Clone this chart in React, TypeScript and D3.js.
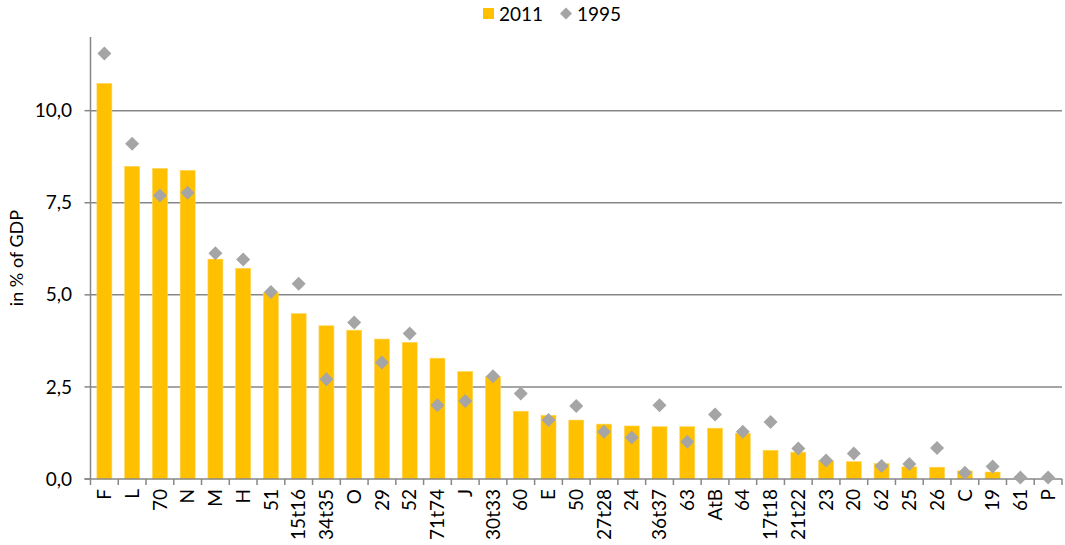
import React from "react";
import * as d3 from "d3";

const categories = ["F","L","70","N","M","H","51","15t16","34t35","O","29","52","71t74","J","30t33","60","E","50","27t28","24","36t37","63","AtB","64","17t18","21t22","23","20","62","25","26","C","19","61","P"];
const values2011 = [10.74,8.49,8.43,8.38,5.97,5.72,5.06,4.49,4.16,4.04,3.80,3.71,3.28,2.92,2.78,1.84,1.73,1.60,1.49,1.44,1.42,1.42,1.38,1.24,0.78,0.73,0.50,0.47,0.42,0.33,0.32,0.22,0.19,0,0];
const values1995 = [11.55,9.10,7.70,7.77,6.13,5.96,5.08,5.30,2.71,4.25,3.16,3.95,2.00,2.12,2.79,2.32,1.60,1.98,1.28,1.13,2.00,1.01,1.75,1.28,1.55,0.83,0.50,0.69,0.35,0.41,0.84,0.17,0.34,0.04,0.04];
const yTicks = [0, 2.5, 5, 7.5, 10];
const seriesNames = ["2011", "1995"];

const W = 1065, H = 545;
const left = 90.5, right = 1062, top = 37, bottom = 479;
const FONT = "Lato, 'Open Sans', sans-serif";
const BAR = "#FFC000";
const DIAM = "#A5A5A5";
const AXIS = "#878787";

function diamond(cx: number, cy: number, r: number) {
  return `M${cx},${cy - r}L${cx + r},${cy}L${cx},${cy + r}L${cx - r},${cy}Z`;
}

export default function App() {
  const x = d3.scaleBand<string>().domain(categories).range([left, right]).paddingInner(0.46).paddingOuter(0.23);
  const y = d3.scaleLinear().domain([0, 12]).range([bottom, top]);
  const step = x.step();
  const bw = x.bandwidth();
  const fmt = (v: number) => d3.format(".1f")(v).replace(".", ",");
  const boundaries = categories.map((c) => (x(c) as number) + bw / 2 - step / 2);
  boundaries.push(boundaries[boundaries.length - 1] + step);

  return (
    <svg width={W} height={H} style={{ position: "absolute", left: 0, top: 0, background: "#fff" }} fontFamily={FONT}>
      {yTicks.filter((t) => t > 0).map((t) => (
        <line key={t} x1={left} x2={right} y1={y(t)} y2={y(t)} stroke={AXIS} strokeWidth={1.5} />
      ))}
      {categories.map((c, i) => (
        <rect key={c} x={x(c)} y={y(values2011[i])} width={bw} height={bottom - y(values2011[i])} fill={BAR} stroke="#FFD65A" strokeWidth={0.6} />
      ))}
      <line x1={left} x2={left} y1={top} y2={bottom} stroke={AXIS} strokeWidth={1.5} />
      {yTicks.map((t) => (
        <g key={t}>
          <line x1={left - 6} x2={left} y1={y(t)} y2={y(t)} stroke={AXIS} strokeWidth={1.5} />
          <text x={72} y={y(t)} dy="0.35em" textAnchor="end" fontSize={19} fill="#000">{fmt(t)}</text>
        </g>
      ))}
      <line x1={left - 6} x2={right} y1={bottom} y2={bottom} stroke={AXIS} strokeWidth={1.5} />
      {boundaries.map((b, i) => (
        <line key={i} x1={b} x2={b} y1={bottom} y2={bottom + 6} stroke={AXIS} strokeWidth={1.5} />
      ))}
      {categories.map((c, i) => (
        <path key={c} d={diamond((x(c) as number) + bw / 2, y(values1995[i]), 7)} fill={DIAM} />
      ))}
      {categories.map((c) => {
        const cx = (x(c) as number) + bw / 2;
        return (
          <text key={c} transform={`translate(${cx},489) rotate(-90)`} dy="0.35em" textAnchor="end" fontSize={19} fill="#000">{c}</text>
        );
      })}
      <text transform={`translate(17,${(top + bottom) / 2}) rotate(-90)`} dy="0.35em" textAnchor="middle" fontSize={18} fill="#000">in % of GDP</text>
      <rect x={483} y={8} width={11} height={11} fill={BAR} />
      <text x={499} y={14} dy="0.35em" fontSize={19} fill="#000">{seriesNames[0]}</text>
      <path d={diamond(566, 13.5, 6)} fill={DIAM} />
      <text x={577} y={14} dy="0.35em" fontSize={19} fill="#000">{seriesNames[1]}</text>
    </svg>
  );
}
